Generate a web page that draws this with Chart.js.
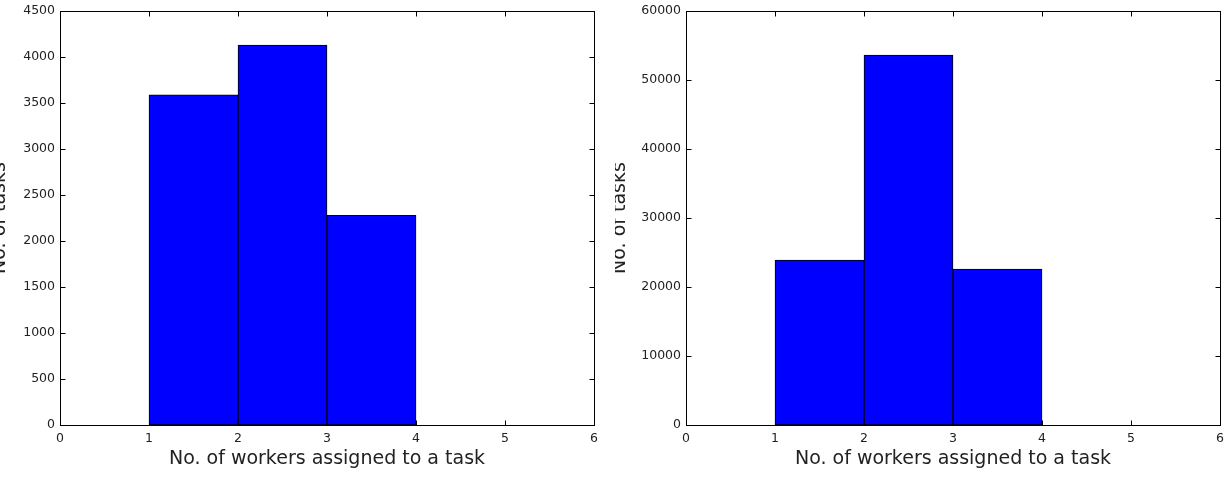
<!DOCTYPE html>
<html>
<head>
<meta charset="utf-8">
<script src="https://cdn.jsdelivr.net/npm/chart.js@4/dist/chart.umd.min.js"></script>
<style>
  html, body { margin: 0; padding: 0; background: #fff; }
  .panel { position: absolute; top: 0; height: 479px; }
  #left { left: 0; width: 615px; }
  #right { left: 615px; width: 616px; }
</style>
</head>
<body>
<div class="panel" id="left"><canvas id="chartLeft"></canvas></div>
<div class="panel" id="right"><canvas id="chartRight"></canvas></div>
<script>
// bin centers (bins 1-2, 2-3, 3-4)
const binCenters = [1.5, 2.5, 3.5];
const tasksLeft = [3590, 4130, 2280];
const tasksRight = [23900, 53600, 22600];
const xTicks = [0, 1, 2, 3, 4, 5, 6];
const yTicksLeft = [0, 500, 1000, 1500, 2000, 2500, 3000, 3500, 4000, 4500];
const yTicksRight = [0, 10000, 20000, 30000, 40000, 50000, 60000];

const xTitle = 'No. of workers assigned to a task';
const yTitle = 'No. of tasks';

// matplotlib style box with ticks pointing inwards
const frameTicks = {
    id: 'frameTicks',
    afterDatasetsDraw(chart) {
        const { ctx, chartArea: a, scales: { x, y } } = chart;
        const left = Math.round(a.left) + 0.5, right = Math.round(a.right) + 0.5;
        const top = Math.round(a.top) + 0.5, bottom = Math.round(a.bottom) + 0.5;
        ctx.save();
        ctx.strokeStyle = '#000';
        ctx.lineWidth = 1;
        ctx.beginPath();
        x.ticks.forEach(t => {
            const px = Math.round(x.getPixelForValue(t.value)) + 0.5;
            ctx.moveTo(px, bottom); ctx.lineTo(px, bottom - 5);
            ctx.moveTo(px, top); ctx.lineTo(px, top + 5);
        });
        y.ticks.forEach(t => {
            const py = Math.round(y.getPixelForValue(t.value)) + 0.5;
            ctx.moveTo(left, py); ctx.lineTo(left + 5, py);
            ctx.moveTo(right, py); ctx.lineTo(right - 5, py);
        });
        ctx.stroke();
        ctx.strokeRect(left, top, right - left, bottom - top);
        ctx.restore();
    }
};

function makeChart(id, values, yTicks, yAxisWidth, padRight, titleShift) {
    const ctx = document.getElementById(id).getContext('2d');
    return new Chart(ctx, {
        type: 'bar',
        data: {
            datasets: [{
                data: binCenters.map((c, i) => ({ x: c, y: values[i] })),
                backgroundColor: '#0000ff',
                borderColor: '#000',
                borderWidth: 1,
                borderSkipped: false,
                barPercentage: 1,
                categoryPercentage: 1
            }]
        },
        options: {
            responsive: true,
            maintainAspectRatio: false,
            animation: false,
            layout: { padding: { top: 11, right: padRight, bottom: 0, left: 0 } },
            plugins: { legend: { display: false }, tooltip: { enabled: false } },
            scales: {
                x: {
                    type: 'linear',
                    offset: false,
                    min: xTicks[0],
                    max: xTicks[xTicks.length - 1],
                    afterBuildTicks: s => { s.ticks = xTicks.map(v => ({ value: v })); },
                    grid: { display: false, drawTicks: false, offset: false },
                    border: { display: false },
                    ticks: {
                        color: '#222', padding: 6, maxRotation: 0,
                        font: { family: 'DejaVu Sans', size: 12.5 },
                        callback: v => String(v)
                    },
                    title: {
                        display: true, text: xTitle, color: '#222',
                        padding: { top: 0, bottom: 10 },
                        font: { family: 'DejaVu Sans', size: 19, lineHeight: 1 }
                    },
                    afterFit: s => {
                        s.height = 54;
                        s.paddingLeft = 0;
                        s.paddingRight = 0;
                    }
                },
                y: {
                    min: 0,
                    max: yTicks[yTicks.length - 1],
                    afterBuildTicks: s => { s.ticks = yTicks.map(v => ({ value: v })); },
                    grid: { display: false, drawTicks: false },
                    border: { display: false },
                    ticks: {
                        color: '#222', padding: 5,
                        font: { family: 'DejaVu Sans', size: 12.5 },
                        callback: v => String(v)
                    },
                    title: {
                        display: true, text: yTitle, color: '#222',
                        padding: { top: titleShift, bottom: 0 },
                        font: { family: 'DejaVu Sans', size: 19, lineHeight: 1 }
                    },
                    afterFit: s => {
                        s.width = yAxisWidth;
                        s.paddingTop = 0;
                        s.paddingBottom = 0;
                    }
                }
            }
        },
        plugins: [frameTicks]
    });
}

makeChart('chartLeft', tasksLeft, yTicksLeft, 60, 21, -9);
makeChart('chartRight', tasksRight, yTicksRight, 71, 11, -4);
</script>
</body>
</html>
